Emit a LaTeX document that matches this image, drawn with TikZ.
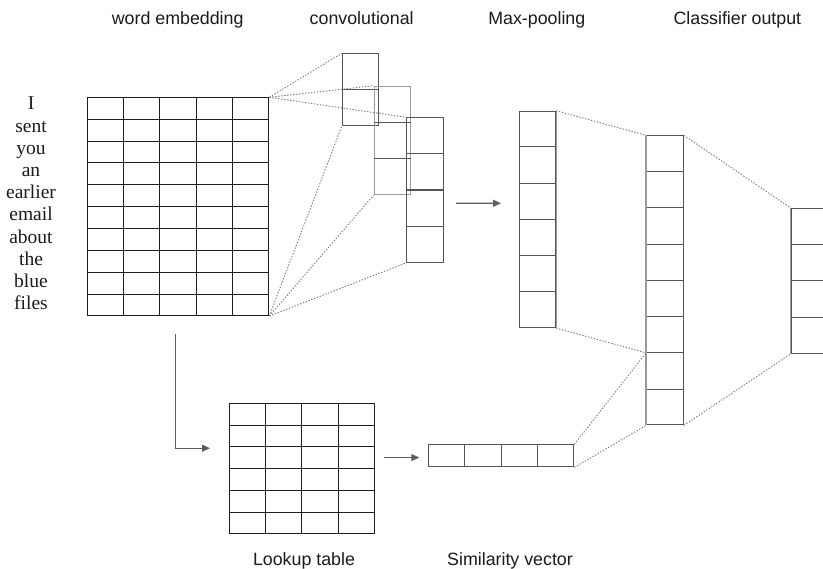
\documentclass[tikz,border=0pt]{standalone}
\usepackage{fontspec}
\setmainfont{Liberation Serif}
\setsansfont{Liberation Sans}
\usetikzlibrary{calc,arrows.meta}

\definecolor{gridink}{HTML}{1E1E1E}
\definecolor{cellink}{HTML}{555555}
\definecolor{paleink}{HTML}{9A9A9A}
\definecolor{dotink}{HTML}{7A7A7A}
\definecolor{arrowink}{HTML}{5E5E5E}
\definecolor{textink}{HTML}{1A1A1A}

% vertical dividers: node, number of columns, colour
\newcommand\vcuts[3]{%
  \pgfmathtruncatemacro\lastcut{#2-1}%
  \foreach \k in {1,...,\lastcut}
    \draw[#3] ($(#1.north west)!\k/#2!(#1.north east)$) -- ($(#1.south west)!\k/#2!(#1.south east)$);%
}
% horizontal dividers: node, number of rows, colour
\newcommand\hcuts[3]{%
  \pgfmathtruncatemacro\lastcut{#2-1}%
  \foreach \k in {1,...,\lastcut}
    \draw[#3] ($(#1.north west)!\k/#2!(#1.south west)$) -- ($(#1.north east)!\k/#2!(#1.south east)$);%
}

\begin{document}
\begin{tikzpicture}[x=1pt,y=-1pt,
  tablebox/.style={draw=gridink, line width=1pt, inner sep=0pt, anchor=north west},
  cellbox/.style={draw=cellink, line width=1.1pt, inner sep=0pt, anchor=north west},
  dots/.style={dotink, line width=0.9pt, dash pattern=on 1.4pt off 1.6pt},
  arr/.style={arrowink, line width=1.1pt, -{Triangle[length=8pt,width=7pt]}},
  toplabel/.style={anchor=base, text=textink, font=\sffamily\fontsize{17.8}{20}\selectfont, inner sep=0pt},
  word/.style={anchor=base, text=textink, font=\rmfamily\fontsize{19.5}{22}\selectfont, inner sep=0pt}]

\clip (0,0) rectangle (823,569);

% ---- headings ----
\node[toplabel] (h1) at (177.7,25) {word embedding};
\node[toplabel] (h2) at (361.7,25) {convolutional};
\node[toplabel] (h3) at (536.8,25) {Max-pooling};
\node[toplabel] (h4) at (737.4,25) {Classifier output};
\node[toplabel] (h5) at (304,565.5) {Lookup table};
\node[toplabel] (h6) at (510,565.5) {Similarity vector};

% ---- input sentence ----
\foreach \w [count=\i] in {I,sent,you,an,earlier,email,about,the,blue,files}
  \node[word] (w\i) at (31,{110+22.2*(\i-1)}) {\w};

% ---- word embedding matrix ----
\node[tablebox, minimum width=181.6pt, minimum height=217.7pt] (emb) at (86.7,97.3) {};
\vcuts{emb}{5}{gridink, line width=1pt}
\hcuts{emb}{10}{gridink, line width=1pt}

% ---- convolutional filters ----
\node[cellbox, minimum width=36.6pt, minimum height=72pt] (conv1) at (341.7,53.3) {};
\hcuts{conv1}{2}{cellink, line width=1.1pt}
\node[cellbox, draw=paleink, minimum width=36.3pt, minimum height=108.3pt] (conv2) at (373.7,85.7) {};
\hcuts{conv2}{3}{cellink, line width=1.1pt}
\node[cellbox, minimum width=36.4pt, minimum height=144.4pt] (conv3) at (406.3,117.3) {};
\hcuts{conv3}{4}{cellink, line width=1.1pt}

% ---- max-pooling column ----
\node[cellbox, minimum width=35.7pt, minimum height=216.3pt] (pool) at (519.3,110.7) {};
\hcuts{pool}{6}{cellink, line width=1.1pt}
\draw[paleink, line width=1.1pt] (pool.north east) -- (pool.south east);

% ---- hidden classifier column ----
\node[cellbox, minimum width=36.7pt, minimum height=289pt] (hid) at (646,135.3) {};
\hcuts{hid}{8}{cellink, line width=1.1pt}
\draw[paleink, line width=1.1pt] (hid.north west) -- (hid.south west);
\coordinate (hid6) at ($(hid.north west)!6/8!(hid.south west)$);

% ---- output column ----
\node[cellbox, minimum width=36.3pt, minimum height=144.7pt] (out) at (790.7,208) {};
\hcuts{out}{4}{cellink, line width=1.1pt}
\draw[paleink, line width=1.1pt] (out.north west) -- (out.south west);

% ---- lookup table ----
\node[tablebox, minimum width=145pt, minimum height=130pt] (lookup) at (228.7,403.3) {};
\vcuts{lookup}{4}{gridink, line width=1pt}
\hcuts{lookup}{6}{gridink, line width=1pt}

% ---- similarity vector ----
\node[cellbox, minimum width=145pt, minimum height=22pt] (sim) at (428.3,444.3) {};
\vcuts{sim}{4}{cellink, line width=1.1pt}

% ---- receptive-field lines ----
\draw[dots] (emb.north east) -- (conv1.north west);
\draw[dots] (emb.north east) -- (conv2.north west);
\draw[dots] (emb.north east) -- (conv3.north west);
\draw[dots] (emb.south east) -- (conv1.south west);
\draw[dots] (emb.south east) -- (conv2.south west);
\draw[dots] (emb.south east) -- (conv3.south west);
\draw[dots] (pool.north east) -- (hid.north west);
\draw[dots] (pool.south east) -- (hid6);
\draw[dots] (sim.north east) -- (hid6);
\draw[dots] (sim.south east) -- (hid.south west);
\draw[dots] (hid.north east) -- (out.north west);
\draw[dots] (hid.south east) -- (out.south west);

% ---- flow arrows ----
\coordinate (convout) at ($(conv3.east)+(12.3,13.2)$);
\coordinate (poolin) at ($(pool.west)+(-18.3,-16.1)$);
\draw[arr] (convout) -- (poolin);

\coordinate (embout) at ($(emb.south)+(-2.5,18.3)$);
\coordinate (lookin) at ($(lookup.west)+(-18.7,-20.6)$);
\draw[arr] (embout) |- (lookin);

\coordinate (lookout) at ($(lookup.east |- sim.west)+(9,1.7)$);
\coordinate (simin) at ($(sim.west)+(-9,1.7)$);
\draw[arr] (lookout) -- (simin);

\end{tikzpicture}
\end{document}
